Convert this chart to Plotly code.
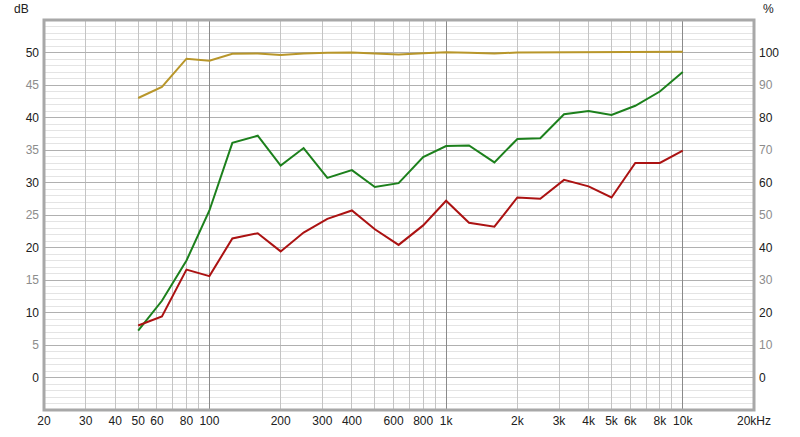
import math
import plotly.graph_objects as go

freqs = [50, 63, 80, 100, 125, 160, 200, 250, 315, 400, 500, 630, 800, 1000,
         1250, 1600, 2000, 2500, 3150, 4000, 5000, 6300, 8000, 10000]

gold_pct = [86.0, 89.4, 98.1, 97.5, 99.6, 99.7, 99.2, 99.7, 99.9, 100.0, 99.7, 99.4,
            99.8, 100.1, 99.9, 99.7, 100.0, 100.0, 100.1, 100.1, 100.0, 100.2, 100.2, 100.2]

green_db = [7.2, 11.8, 18.0, 25.7, 36.1, 37.2, 32.6, 35.3, 30.7, 31.9, 29.3, 29.9,
            33.9, 35.6, 35.7, 33.1, 36.7, 36.8, 40.5, 41.0, 40.4, 41.8, 44.0, 47.0]

red_db = [8.0, 9.4, 16.6, 15.6, 21.4, 22.2, 19.4, 22.3, 24.4, 25.7, 22.8, 20.4,
          23.4, 27.2, 23.8, 23.2, 27.7, 27.5, 30.4, 29.4, 27.7, 33.0, 33.0, 34.9]

x_tick_vals = [20, 30, 40, 50, 60, 70, 80, 90, 100, 200, 300, 400, 500, 600, 700, 800, 900,
               1000, 2000, 3000, 4000, 5000, 6000, 7000, 8000, 9000, 10000, 20000]
x_tick_text = ["20", "30", "40", "50", "60", "", "80", "", "100", "200", "300", "400", "", "600", "", "800", "",
               "1k", "2k", "3k", "4k", "5k", "6k", "", "8k", "", "10k", "20kHz"]
x_major_vals = [100, 1000, 10000]

y_tick_vals = [0, 5, 10, 15, 20, 25, 30, 35, 40, 45, 50]
y2_tick_vals = [0, 10, 20, 30, 40, 50, 60, 70, 80, 90, 100]

GRAY = "#8c8c8c"

def lbl(v, major):
    return str(v) if major else "<span style='color:%s'>%s</span>" % (GRAY, v)

y_tick_text = [lbl(v, v % 10 == 0) for v in y_tick_vals]
y2_tick_text = [lbl(v, v % 20 == 0) for v in y2_tick_vals]

fig = go.Figure()
fig.add_trace(go.Scatter(x=freqs, y=gold_pct, mode="lines", yaxis="y2",
                         line=dict(color="#b8962a", width=2), showlegend=False))
fig.add_trace(go.Scatter(x=freqs, y=green_db, mode="lines",
                         line=dict(color="#1c801c", width=2), showlegend=False))
fig.add_trace(go.Scatter(x=freqs, y=red_db, mode="lines",
                         line=dict(color="#ab1212", width=2), showlegend=False))
# helper trace so the overlay x axis (darker decade grid lines) is drawn
fig.add_trace(go.Scatter(x=[freqs[0]], y=[None], xaxis="x2", yaxis="y", mode="lines",
                         showlegend=False, hoverinfo="skip"))

font = dict(family="Liberation Sans, Arial, sans-serif", size=12, color="#202020")
xr = [math.log10(20), math.log10(20000)]

fig.update_layout(
    template="none",
    width=800, height=437,
    margin=dict(l=44, r=46, t=20, b=27),
    paper_bgcolor="white", plot_bgcolor="white",
    font=font,
    xaxis=dict(type="log", range=xr, tickvals=x_tick_vals, ticktext=x_tick_text,
               showgrid=True, gridcolor="#c4c4c4", gridwidth=1, zeroline=False,
               ticks="", ticklabelstandoff=2, showline=False, automargin=False),
    xaxis2=dict(type="log", range=xr, overlaying="x", tickvals=x_major_vals,
                showticklabels=False, showgrid=True, gridcolor="#8a8a8a", gridwidth=1,
                zeroline=False, ticks="", automargin=False),
    yaxis=dict(range=[-5, 55], tickvals=y_tick_vals, ticktext=y_tick_text,
               showgrid=True, gridcolor="#c8c8c8", zeroline=False, ticks="",
               minor=dict(dtick=1, tick0=0, showgrid=True, gridcolor="#e4e4e4", ticks=""),
               ticklabelstandoff=4, automargin=False),
    yaxis2=dict(range=[-10, 110], overlaying="y", side="right",
                tickvals=y2_tick_vals, ticktext=y2_tick_text,
                showgrid=True, gridcolor="#b0b0b0", zeroline=False, ticks="",
                ticklabelstandoff=4, automargin=False),
)

# frame
fig.add_shape(type="rect", xref="paper", yref="paper", x0=0, x1=1, y0=0, y1=1,
              line=dict(color="#a8a8a8", width=3), layer="above")

fig.add_annotation(text="dB", xref="paper", yref="paper", x=-0.031, y=1.0, yshift=11,
                   showarrow=False, xanchor="center", yanchor="middle", font=font)
fig.add_annotation(text="%", xref="paper", yref="paper", x=1.01, y=1.0, yshift=11,
                   showarrow=False, xanchor="left", yanchor="middle", font=font)

fig.write_html("out.html", config={"displayModeBar": False},
               post_script="document.body.style.margin='0';document.body.style.padding='0';")
